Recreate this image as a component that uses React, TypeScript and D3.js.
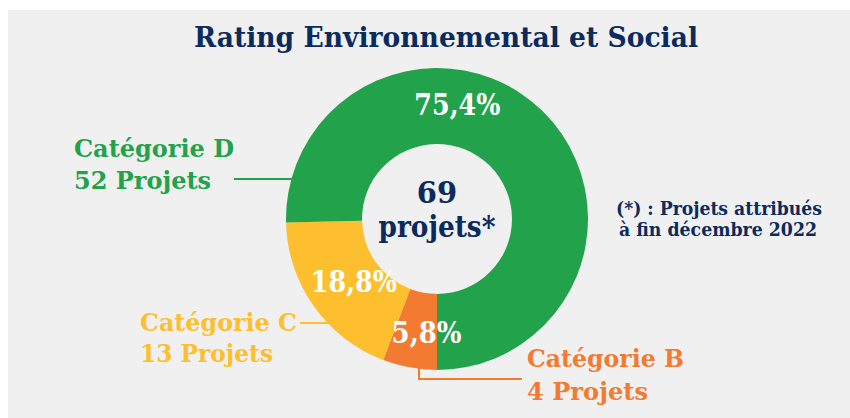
import React from "react";
import * as d3 from "d3";

const categories = ["Catégorie B", "Catégorie C", "Catégorie D"];
const projectCounts = [4, 13, 52];
const percentLabels = ["5,8%", "18,8%", "75,4%"];
const countLabels = ["4 Projets", "13 Projets", "52 Projets"];
const title = "Rating Environnemental et Social";
const centerLines = ["69", "projets*"];
const footnoteLines = ["(*) : Projets attribués", "à fin décembre 2022"];

const colors = ["#f37a31", "#fdbf2e", "#21a24b"];
const NAVY = "#0b2b5e";
const BG = "#f0f0f0";
const SERIF = "'DejaVu Serif', 'Liberation Serif', serif";

const W = 850;
const H = 418;
const cx = 437;
const cy = 219;
const rOuter = 151;
const rInner = 75;

// label placement (styling only)
const pctPlacement = [
  { angleShift: -0.09, r: 113, len: 70 },
  { angleShift: -0.03, r: 104, len: 86 },
  { angle: (10 * Math.PI) / 180, r: 117, len: 86 },
];
const catPlacement = [
  { x: 527, y1: 367, y2: 400, w1: 157, w2: 121 },
  { x: 140, y1: 331, y2: 362, w1: 157, w2: 133 },
  { x: 74, y1: 157, y2: 189, w1: 160, w2: 137 },
];

export default function App() {
  const pie = d3
    .pie<number>()
    .sort(null)
    .startAngle(Math.PI)
    .endAngle(3 * Math.PI)
    .value((d) => d);
  const arcs = pie(projectCounts);
  const arc = d3.arc<d3.PieArcDatum<number>>().innerRadius(rInner).outerRadius(rOuter);

  const polar = (a: number, r: number) => [cx + r * Math.sin(a), cy - r * Math.cos(a)];

  return (
    <div style={{ position: "absolute", left: 0, top: 0 }}>
      <svg width={W} height={H} style={{ display: "block" }}>
        <rect x={0} y={0} width={W} height={H} fill="#ffffff" />
        <rect x={8} y={10} width={W - 8} height={H - 10} fill={BG} />
        <text
          x={446}
          y={47}
          textAnchor="middle"
          fontFamily={SERIF}
          fontWeight="bold"
          fontSize={28}
          fill={NAVY}
          textLength={504}
          lengthAdjust="spacingAndGlyphs"
        >
          {title}
        </text>

        {/* leader lines */}
        <g fill="none" strokeWidth={2}>
          <line x1={234} x2={cx - Math.sqrt(rOuter * rOuter - 40 * 40) + 2} y1={179} y2={179} stroke={colors[2]} />
          <line x1={300} x2={cx - Math.sqrt(rOuter * rOuter - 104 * 104) + 2} y1={323} y2={323} stroke={colors[1]} />
          <polyline points={`419,364 419,379 522,379`} stroke={colors[0]} />
        </g>

        <g transform={`translate(${cx},${cy})`}>
          {arcs.map((a, i) => (
            <path key={categories[i]} d={arc(a) || ""} fill={colors[i]} />
          ))}
        </g>

        {arcs.map((a, i) => {
          const p = pctPlacement[i] as any;
          const ang = p.angle !== undefined ? p.angle : (a.startAngle + a.endAngle) / 2 + p.angleShift;
          const [x, y] = polar(ang, p.r);
          return (
            <text
              key={"p" + i}
              x={x}
              y={y + 11}
              textAnchor="middle"
              fontFamily={SERIF}
              fontWeight="bold"
              fontSize={30}
              fill="#ffffff"
              textLength={p.len}
              lengthAdjust="spacingAndGlyphs"
            >
              {percentLabels[i]}
            </text>
          );
        })}

        {categories.map((c, i) => {
          const p = catPlacement[i];
          return (
            <g key={"c" + i} fontFamily={SERIF} fontWeight="bold" fontSize={25} fill={colors[i]}>
              <text x={p.x} y={p.y1} textLength={p.w1} lengthAdjust="spacingAndGlyphs">{c}</text>
              <text x={p.x} y={p.y2} textLength={p.w2} lengthAdjust="spacingAndGlyphs">{countLabels[i]}</text>
            </g>
          );
        })}

        <g fontFamily={SERIF} fontWeight="bold" fill={NAVY} textAnchor="middle">
          <text x={cx} y={203} fontSize={29}>{centerLines[0]}</text>
          <text x={cx} y={237} fontSize={29} textLength={117} lengthAdjust="spacingAndGlyphs">{centerLines[1]}</text>
        </g>

        <g fontFamily={SERIF} fontWeight="bold" fill={NAVY} fontSize={18}>
          <text x={616} y={215} textLength={206} lengthAdjust="spacingAndGlyphs">{footnoteLines[0]}</text>
          <text x={619} y={236} textLength={198} lengthAdjust="spacingAndGlyphs">{footnoteLines[1]}</text>
        </g>
      </svg>
    </div>
  );
}
